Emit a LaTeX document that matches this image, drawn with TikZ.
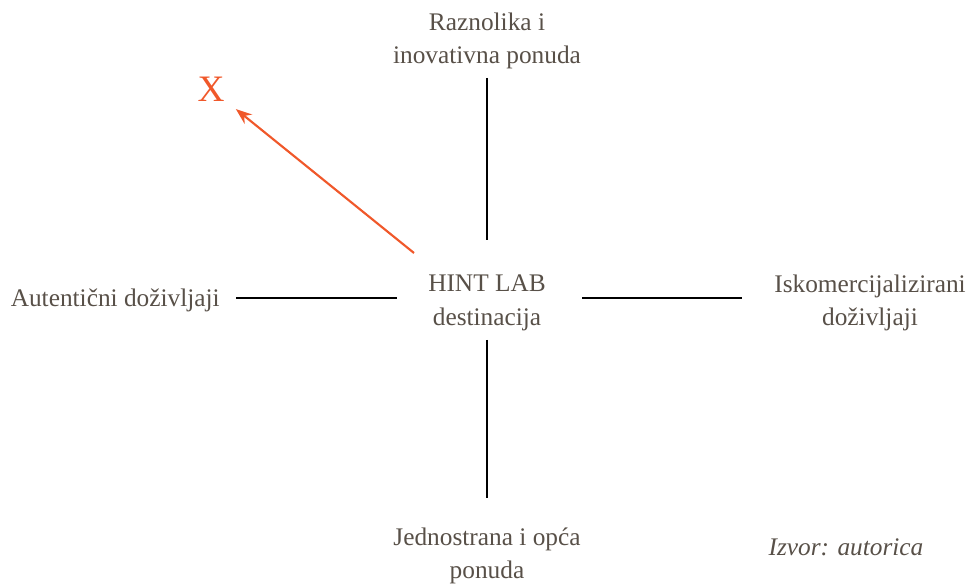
\documentclass[tikz,border=0pt]{standalone}
\usepackage{fontspec}
\setmainfont{Liberation Serif}
\usepackage{tikz}
\usetikzlibrary{arrows.meta}
\definecolor{txtgray}{RGB}{88,80,72}
\definecolor{xorange}{RGB}{240,88,42}

\begin{document}
\begin{tikzpicture}[x=0.75pt,y=-0.75pt,
	lbl/.style={text=txtgray,align=center,font=\fontsize{19}{25}\selectfont,inner sep=0pt},
	spoke/.style={line width=1.5pt,black},
	pointer/.style={line width=1.6pt,xorange,-{Stealth[length=12pt,width=9pt]}}]
			%\clip(0,0) rectangle (972,584);
			\useasboundingbox (0,0) rectangle (972,584);
			\node[lbl] (hub) at (487,303) {HINT LAB\\destinacija};
			\node[lbl] (north) at (487,41) {Raznolika i\\inovativna ponuda};
			\node[lbl] (south) at (487,556) {Jednostrana i opća\\ponuda};
			\node[lbl,anchor=east] (west) at (220,300) {Autentični doživljaji};
			\node[lbl] (east) at (870,303) {Iskomercijalizirani\\doživljaji};
			\node[lbl,font=\fontsize{19}{25}\selectfont\itshape] (source) at (846,547) {Izvor: autorica};
			\node[text=xorange,font=\fontsize{28}{30}\selectfont,inner sep=0pt] (xmark) at (211,89) {X};
			% spoke ends
			\coordinate (n1) at (487,78);
			\coordinate (n2) at (487,240);
			\coordinate (s1) at (487,340);
			\coordinate (s2) at (487,498);
			\coordinate (w1) at (236,298);
			\coordinate (w2) at (397,298);
			\coordinate (e1) at (582,298);
			\coordinate (e2) at (742,298);
			\coordinate (a0) at (414,253);
			\draw[spoke] (n1) -- (n2);
			\draw[spoke] (s1) -- (s2);
			\draw[spoke] (w1) -- (w2);
			\draw[spoke] (e1) -- (e2);
			\draw[pointer,shorten >=24pt] (a0) -- (xmark.center);
\end{tikzpicture}
\end{document}
